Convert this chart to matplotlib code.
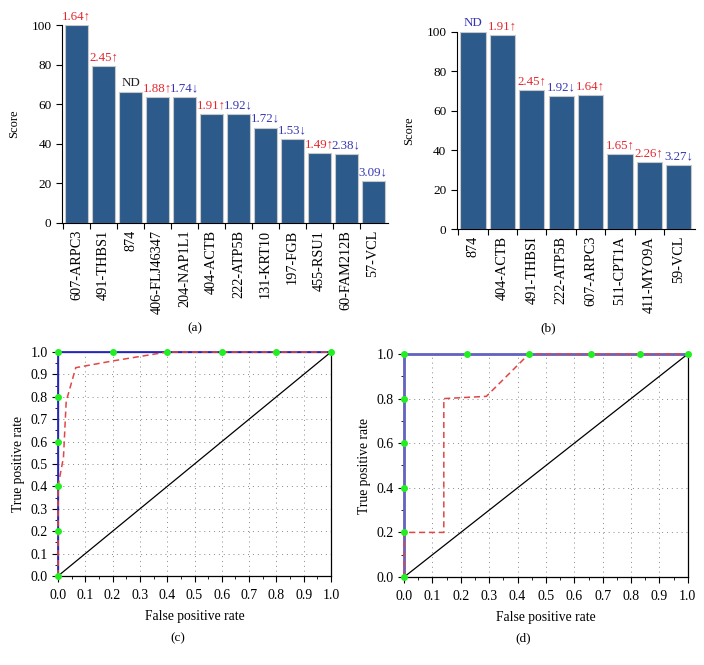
import numpy as np
import matplotlib
matplotlib.use("Agg")
import matplotlib.pyplot as plt
from matplotlib.ticker import MultipleLocator, FixedLocator, NullFormatter

plt.rcParams["font.family"] = ["Liberation Serif", "DejaVu Serif"]

# (a) scores
genes_a = ["607-ARPC3", "491-THBS1", "874", "406-FLJ46347", "204-NAP1L1", "404-ACTB",
           "222-ATP5B", "131-KRT10", "197-FGB", "455-RSU1", "60-FAM212B", "57-VCL"]
score_a = [100, 79.4, 66.1, 63.7, 63.4, 55.1, 55.1, 48.2, 42.5, 35.2, 34.9, 21.3]
note_a = ["1.64↑", "2.45↑", "ND", "1.88↑", "1.74↓", "1.91↑", "1.92↓", "1.72↓",
          "1.53↓", "1.49↑", "2.38↓", "3.09↓"]
note_a_kind = ["up", "up", "nd", "up", "down", "up", "down", "down", "down", "up", "down", "down"]

# (b) scores
genes_b = ["874", "404-ACTB", "491-THBSI", "222-ATP5B", "607-ARPC3", "511-CPT1A",
           "411-MYO9A", "59-VCL"]
score_b = [100, 98.5, 70.5, 67.6, 67.8, 38.0, 34.0, 32.7]
note_b = ["ND", "1.91↑", "2.45↑", "1.92↓", "1.64↑", "1.65↑", "2.26↑", "3.27↓"]
note_b_kind = ["down", "up", "up", "down", "up", "up", "up", "down"]

# (c) ROC curves
c_fpr_train = [0, 0, 0, 0, 0, 0, 0.2, 0.4, 0.6, 0.8, 1.0]
c_tpr_train = [0, 0.2, 0.4, 0.6, 0.8, 1.0, 1.0, 1.0, 1.0, 1.0, 1.0]
c_fpr_test = [0, 0, 0.02, 0.03, 0.065, 0.2, 0.4, 1.0]
c_tpr_test = [0, 0.4, 0.53, 0.78, 0.93, 0.96, 1.0, 1.0]

# (d) ROC curves
d_fpr_train = [0, 0, 0, 0, 0, 0, 0.22, 0.44, 0.66, 0.83, 1.0]
d_tpr_train = [0, 0.2, 0.4, 0.6, 0.8, 1.0, 1.0, 1.0, 1.0, 1.0, 1.0]
d_fpr_test = [0, 0, 0.14, 0.14, 0.29, 0.44, 1.0]
d_tpr_test = [0, 0.2, 0.2, 0.8, 0.81, 1.0, 1.0]

BAR = "#2b5a8b"
RED = "#e5262d"
BLUE = "#3636b4"
kind_colour = {"up": RED, "down": BLUE, "nd": "#222222"}

fig = plt.figure(figsize=(7.04, 6.65), dpi=100)


def bar_panel(ax, genes, scores, notes, kinds):
    x = np.arange(len(genes))
    ax.bar(x, scores, width=0.86, color=BAR, edgecolor="#c8c8c8", linewidth=0.8)
    ax.set_xlim(-0.55, len(genes) - 0.45)
    ax.set_ylim(0, 100)
    ax.xaxis.set_major_locator(FixedLocator(x - 0.5))
    ax.xaxis.set_major_formatter(NullFormatter())
    ax.xaxis.set_minor_locator(FixedLocator(x))
    ax.set_xticklabels(genes, minor=True, rotation=90, fontsize=10.3)
    ax.tick_params(axis="x", which="minor", length=0, pad=5)
    ax.tick_params(axis="x", which="major", length=4, direction="out")
    ax.yaxis.set_major_locator(MultipleLocator(20))
    ax.tick_params(axis="y", labelsize=9.5, length=4, direction="out")
    ax.set_ylabel("Score", fontsize=9, labelpad=8)
    for s in ["top", "right"]:
        ax.spines[s].set_visible(False)
    for xi, yi, t, k in zip(x, scores, notes, kinds):
        ax.annotate(t, (xi, yi), xytext=(0, 2), textcoords="offset points",
                    ha="center", va="bottom", fontsize=9.3, color=kind_colour[k],
                    family=["Liberation Serif", "DejaVu Sans"], annotation_clip=False)


ax_a = fig.add_axes([0.088, 0.6647, 0.463, 0.2977])
bar_panel(ax_a, genes_a, score_a, note_a, note_a_kind)
ax_b = fig.add_axes([0.649, 0.6556, 0.338, 0.2963])
bar_panel(ax_b, genes_b, score_b, note_b, note_b_kind)


def roc_panel(ax, ftr, ttr, fte, tte, blue, blue_lw, ystep):
    ax.set_xlim(0, 1)
    ax.set_ylim(0, 1)
    ax.xaxis.set_major_locator(MultipleLocator(0.1))
    ax.xaxis.set_minor_locator(MultipleLocator(0.05))
    ax.yaxis.set_major_locator(MultipleLocator(ystep))
    ax.yaxis.set_minor_locator(MultipleLocator(ystep / 2))
    ax.xaxis.set_major_formatter(plt.FuncFormatter(lambda v, p: f"{v:.1f}"))
    ax.yaxis.set_major_formatter(plt.FuncFormatter(lambda v, p: f"{v:.1f}"))
    ax.tick_params(which="major", labelsize=10, length=4, direction="out")
    ax.tick_params(axis="x", which="major", pad=5)
    ax.tick_params(which="minor", length=2.5, direction="out")
    ax.grid(True, which="major", linestyle=(0, (1, 4)), color="#888888", linewidth=0.7)
    ax.plot([0, 1], [0, 1], color="black", linewidth=0.9)
    ax.plot(ftr, ttr, color=blue, linewidth=blue_lw, clip_on=False, zorder=3)
    ax.plot(fte, tte, color="#e24545", linewidth=1.1, linestyle=(0, (4, 2.5)),
            clip_on=False, zorder=4)
    ax.plot(ftr, ttr, linestyle="none", marker="o", markersize=4,
            color="#22ee22", clip_on=False, zorder=5)
    for s in ax.spines.values():
        s.set_linewidth(0.9)
    ax.set_xlabel("False positive rate", fontsize=9.8, labelpad=6)
    ax.set_ylabel("True positive rate", fontsize=9.8)


ax_c = fig.add_axes([0.0824, 0.1338, 0.3878, 0.3369])
roc_panel(ax_c, c_fpr_train, c_tpr_train, c_fpr_test, c_tpr_test, "#2a2ad0", 1.3, 0.1)
ax_d = fig.add_axes([0.574, 0.1323, 0.403, 0.3354])
roc_panel(ax_d, d_fpr_train, d_tpr_train, d_fpr_test, d_tpr_test, "#6464c0", 2.0, 0.2)

for lab, xx, yy in [("(a)", 195, 328), ("(b)", 548, 328), ("(c)", 178, 638), ("(d)", 523, 638)]:
    fig.text(xx / 704, 1 - yy / 665, lab, ha="center", va="center", fontsize=9.5)

fig.savefig("out.png", dpi=100)
